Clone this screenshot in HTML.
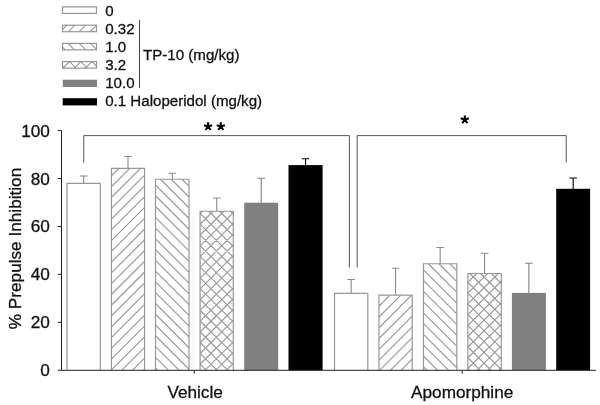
<!DOCTYPE html>
<html><head><meta charset="utf-8"><title>Prepulse Inhibition</title>
<style>
html,body{margin:0;padding:0;background:#fff;}
body{width:600px;height:405px;overflow:hidden;font-family:"Liberation Sans",sans-serif;}
svg{display:block;filter:grayscale(1);}
text{font-family:"Liberation Sans",sans-serif;fill:#111;stroke:#111;stroke-width:0.3px;}
</style></head><body>
<svg width="600" height="405" viewBox="0 0 600 405">
<rect width="600" height="405" fill="#fff"/>
<g>

<rect x="62.5" y="6.9" width="34.0" height="6.5" fill="none" stroke="#979797" stroke-width="1.2"/>
<path d="M62.50,29.60L66.90,25.20M68.30,31.70L74.80,25.20M79.20,31.70L85.70,25.20M90.10,31.70L96.50,25.30" stroke="#9b9b9b" stroke-width="1.2" fill="none"/>
<rect x="62.5" y="25.2" width="34.0" height="6.5" fill="none" stroke="#979797" stroke-width="1.2"/>
<path d="M62.50,47.20L65.20,49.90M67.90,43.40L74.40,49.90M79.25,43.40L85.75,49.90M90.60,43.40L96.50,49.30" stroke="#9b9b9b" stroke-width="1.2" fill="none"/>
<rect x="62.5" y="43.4" width="34.0" height="6.5" fill="none" stroke="#979797" stroke-width="1.2"/>
<path d="M62.50,65.80L64.80,68.10M63.00,68.10L69.50,61.60M69.50,61.60L76.00,68.10M74.20,68.10L80.70,61.60M80.70,61.60L87.20,68.10M85.40,68.10L91.90,61.60M91.90,61.60L96.50,66.20" stroke="#9b9b9b" stroke-width="1.2" fill="none"/>
<rect x="62.5" y="61.6" width="34.0" height="6.5" fill="none" stroke="#979797" stroke-width="1.2"/>
<rect x="62.8" y="79.7" width="34.2" height="7.3" fill="#808080"/>
<rect x="62.7" y="98.2" width="34.3" height="7.2" fill="#000"/>
<text x="105.2" y="15.7" font-size="15.1">0</text>
<text x="105.2" y="33.7" font-size="15.1">0.32</text>
<text x="105.2" y="51.7" font-size="15.1">1.0</text>
<text x="105.2" y="69.7" font-size="15.1">3.2</text>
<text x="105.2" y="88.3" font-size="15.1">10.0</text>
<text x="105.2" y="106.4" font-size="15.1">0.1 Haloperidol (mg/kg)</text>
<line x1="139.5" y1="20" x2="139.5" y2="88" stroke="#444" stroke-width="1"/>
<text x="143" y="60.3" font-size="15.1">TP-10 (mg/kg)</text>
<path d="M83.65,183.4V176.0M79.85,176.0H87.45" stroke="#8a8a8a" stroke-width="1.1" fill="none"/>
<path d="M67.0,370.3V183.4H100.3V370.3" fill="none" stroke="#979797" stroke-width="1.2"/>
<path d="M128.00,168.4V156.5M124.20,156.5H131.80" stroke="#8a8a8a" stroke-width="1.1" fill="none"/>
<path d="M111.40,176.00L119.00,168.40M111.40,186.77L129.77,168.40M111.40,197.54L140.54,168.40M111.40,208.31L144.60,175.11M111.40,219.08L144.60,185.88M111.40,229.85L144.60,196.65M111.40,240.62L144.60,207.42M111.40,251.39L144.60,218.19M111.40,262.16L144.60,228.96M111.40,272.93L144.60,239.73M111.40,283.70L144.60,250.50M111.40,294.47L144.60,261.27M111.40,305.24L144.60,272.04M111.40,316.01L144.60,282.81M111.40,326.78L144.60,293.58M111.40,337.55L144.60,304.35M111.40,348.32L144.60,315.12M111.40,359.09L144.60,325.89M111.40,369.86L144.60,336.66M121.73,370.30L144.60,347.43M132.50,370.30L144.60,358.20M143.27,370.30L144.60,368.97" stroke="#9b9b9b" stroke-width="1.2" fill="none"/>
<path d="M111.4,370.3V168.4H144.6V370.3" fill="none" stroke="#979797" stroke-width="1.2"/>
<path d="M172.25,179.25V173.25M168.45,173.25H176.05" stroke="#8a8a8a" stroke-width="1.1" fill="none"/>
<path d="M155.50,368.09L157.71,370.30M155.50,357.32L168.48,370.30M155.50,346.55L179.25,370.30M155.50,335.78L189.00,369.28M155.50,325.01L189.00,358.51M155.50,314.24L189.00,347.74M155.50,303.47L189.00,336.97M155.50,292.70L189.00,326.20M155.50,281.93L189.00,315.43M155.50,271.16L189.00,304.66M155.50,260.39L189.00,293.89M155.50,249.62L189.00,283.12M155.50,238.85L189.00,272.35M155.50,228.08L189.00,261.58M155.50,217.31L189.00,250.81M155.50,206.54L189.00,240.04M155.50,195.77L189.00,229.27M155.50,185.00L189.00,218.50M160.52,179.25L189.00,207.73M171.29,179.25L189.00,196.96M182.06,179.25L189.00,186.19" stroke="#9b9b9b" stroke-width="1.2" fill="none"/>
<path d="M155.5,370.3V179.25H189.0V370.3" fill="none" stroke="#979797" stroke-width="1.2"/>
<path d="M216.70,211.25V198.0M212.90,198.0H220.50" stroke="#8a8a8a" stroke-width="1.1" fill="none"/>
<path d="M200.10,213.49L202.34,211.25M200.10,224.26L213.11,211.25M200.10,235.03L223.88,211.25M200.10,245.80L233.30,212.60M200.10,256.57L233.30,223.37M200.10,267.34L233.30,234.14M200.10,278.11L233.30,244.91M200.10,288.88L233.30,255.68M200.10,299.65L233.30,266.45M200.10,310.42L233.30,277.22M200.10,321.19L233.30,287.99M200.10,331.96L233.30,298.76M200.10,342.73L233.30,309.53M200.10,353.50L233.30,320.30M200.10,364.27L233.30,331.07M204.84,370.30L233.30,341.84M215.61,370.30L233.30,352.61M226.38,370.30L233.30,363.38M200.10,364.08L206.32,370.30M200.10,353.31L217.09,370.30M200.10,342.54L227.86,370.30M200.10,331.77L233.30,364.97M200.10,321.00L233.30,354.20M200.10,310.23L233.30,343.43M200.10,299.46L233.30,332.66M200.10,288.69L233.30,321.89M200.10,277.92L233.30,311.12M200.10,267.15L233.30,300.35M200.10,256.38L233.30,289.58M200.10,245.61L233.30,278.81M200.10,234.84L233.30,268.04M200.10,224.07L233.30,257.27M200.10,213.30L233.30,246.50M208.82,211.25L233.30,235.73M219.59,211.25L233.30,224.96M230.36,211.25L233.30,214.19" stroke="#9b9b9b" stroke-width="1.2" fill="none"/>
<path d="M200.1,370.3V211.25H233.3V370.3" fill="none" stroke="#979797" stroke-width="1.2"/>
<path d="M261.20,203.1V178.25M257.40,178.25H265.00" stroke="#808080" stroke-width="1.1" fill="none"/>
<rect x="244.2" y="202.7" width="34.00" height="167.60" fill="#808080"/>
<path d="M305.55,165.5V158.75M301.75,158.75H309.35" stroke="#000" stroke-width="1.1" fill="none"/>
<rect x="288.5" y="165.1" width="34.10" height="205.20" fill="#000"/>
<path d="M351.15,293.4V279.5M347.35,279.5H354.95" stroke="#8a8a8a" stroke-width="1.1" fill="none"/>
<path d="M334.5,370.3V293.4H367.8V370.3" fill="none" stroke="#979797" stroke-width="1.2"/>
<path d="M395.60,295.2V268.25M391.80,268.25H399.40" stroke="#8a8a8a" stroke-width="1.1" fill="none"/>
<path d="M379.00,295.45L379.25,295.20M379.00,306.22L390.02,295.20M379.00,316.99L400.79,295.20M379.00,327.76L411.56,295.20M379.00,338.53L412.20,305.33M379.00,349.30L412.20,316.10M379.00,360.07L412.20,326.87M379.54,370.30L412.20,337.64M390.31,370.30L412.20,348.41M401.08,370.30L412.20,359.18M411.85,370.30L412.20,369.95" stroke="#9b9b9b" stroke-width="1.2" fill="none"/>
<path d="M379.0,370.3V295.2H412.2V370.3" fill="none" stroke="#979797" stroke-width="1.2"/>
<path d="M440.15,263.75V247.5M436.35,247.5H443.95" stroke="#8a8a8a" stroke-width="1.1" fill="none"/>
<path d="M423.50,366.73L427.07,370.30M423.50,355.96L437.84,370.30M423.50,345.19L448.61,370.30M423.50,334.42L456.80,367.72M423.50,323.65L456.80,356.95M423.50,312.88L456.80,346.18M423.50,302.11L456.80,335.41M423.50,291.34L456.80,324.64M423.50,280.57L456.80,313.87M423.50,269.80L456.80,303.10M428.22,263.75L456.80,292.33M438.99,263.75L456.80,281.56M449.76,263.75L456.80,270.79" stroke="#9b9b9b" stroke-width="1.2" fill="none"/>
<path d="M423.5,370.3V263.75H456.8V370.3" fill="none" stroke="#979797" stroke-width="1.2"/>
<path d="M484.60,273.5V253.25M480.80,253.25H488.40" stroke="#8a8a8a" stroke-width="1.1" fill="none"/>
<path d="M467.90,282.36L476.76,273.50M467.90,293.13L487.53,273.50M467.90,303.90L498.30,273.50M467.90,314.67L501.30,281.27M467.90,325.44L501.30,292.04M467.90,336.21L501.30,302.81M467.90,346.98L501.30,313.58M467.90,357.75L501.30,324.35M467.90,368.52L501.30,335.12M476.89,370.30L501.30,345.89M487.66,370.30L501.30,356.66M498.43,370.30L501.30,367.43M467.90,368.53L469.67,370.30M467.90,357.76L480.44,370.30M467.90,346.99L491.21,370.30M467.90,336.22L501.30,369.62M467.90,325.45L501.30,358.85M467.90,314.68L501.30,348.08M467.90,303.91L501.30,337.31M467.90,293.14L501.30,326.54M467.90,282.37L501.30,315.77M469.80,273.50L501.30,305.00M480.57,273.50L501.30,294.23M491.34,273.50L501.30,283.46" stroke="#9b9b9b" stroke-width="1.2" fill="none"/>
<path d="M467.9,370.3V273.5H501.3V370.3" fill="none" stroke="#979797" stroke-width="1.2"/>
<path d="M528.90,293.3V263.25M525.10,263.25H532.70" stroke="#808080" stroke-width="1.1" fill="none"/>
<rect x="511.9" y="292.90000000000003" width="34.00" height="77.40" fill="#808080"/>
<path d="M573.15,189.2V178.0M569.35,178.0H576.95" stroke="#000" stroke-width="1.1" fill="none"/>
<rect x="556.2" y="188.79999999999998" width="33.90" height="181.50" fill="#000"/>
<path d="M61.5,130.55 V370.3 H596" stroke="#222" stroke-width="1" fill="none"/>
<line x1="57.8" y1="370.3" x2="61.5" y2="370.3" stroke="#222" stroke-width="1"/>
<text x="49.9" y="376.30" font-size="17.2" text-anchor="end">0</text>
<line x1="57.8" y1="322.35" x2="61.5" y2="322.35" stroke="#222" stroke-width="1"/>
<text x="49.9" y="328.35" font-size="17.2" text-anchor="end">20</text>
<line x1="57.8" y1="274.4" x2="61.5" y2="274.4" stroke="#222" stroke-width="1"/>
<text x="49.9" y="280.40" font-size="17.2" text-anchor="end">40</text>
<line x1="57.8" y1="226.45" x2="61.5" y2="226.45" stroke="#222" stroke-width="1"/>
<text x="49.9" y="232.45" font-size="17.2" text-anchor="end">60</text>
<line x1="57.8" y1="178.5" x2="61.5" y2="178.5" stroke="#222" stroke-width="1"/>
<text x="49.9" y="184.50" font-size="17.2" text-anchor="end">80</text>
<line x1="57.8" y1="130.55" x2="61.5" y2="130.55" stroke="#222" stroke-width="1"/>
<text x="49.9" y="136.55" font-size="17.2" text-anchor="end">100</text>
<line x1="194.2" y1="370.3" x2="194.2" y2="373.8" stroke="#222" stroke-width="1"/>
<line x1="462.2" y1="370.3" x2="462.2" y2="373.8" stroke="#222" stroke-width="1"/>
<text x="195.1" y="397.5" font-size="17.2" text-anchor="middle">Vehicle</text>
<text x="462.2" y="397.5" font-size="17.2" text-anchor="middle">Apomorphine</text>
<text transform="translate(21,248.5) rotate(-90)" font-size="17.2" text-anchor="middle">% Prepulse Inhibition</text>
<path d="M83.75,162.5 V135.6 H349.4 V267.5" stroke="#555" stroke-width="1" fill="none"/>
<path d="M357.2,267.5 V135.6 H566.2 V162.5" stroke="#555" stroke-width="1" fill="none"/>
<path d="M208.10,126.50L208.10,122.20M208.10,126.50L212.19,125.17M208.10,126.50L210.63,129.98M208.10,126.50L205.57,129.98M208.10,126.50L204.01,125.17" stroke="#000" stroke-width="2.1" fill="none"/>
<path d="M220.80,126.50L220.80,122.20M220.80,126.50L224.89,125.17M220.80,126.50L223.33,129.98M220.80,126.50L218.27,129.98M220.80,126.50L216.71,125.17" stroke="#000" stroke-width="2.1" fill="none"/>
<path d="M464.80,119.70L464.80,115.40M464.80,119.70L468.89,118.37M464.80,119.70L467.33,123.18M464.80,119.70L462.27,123.18M464.80,119.70L460.71,118.37" stroke="#000" stroke-width="2.1" fill="none"/>
</g></svg></body></html>
